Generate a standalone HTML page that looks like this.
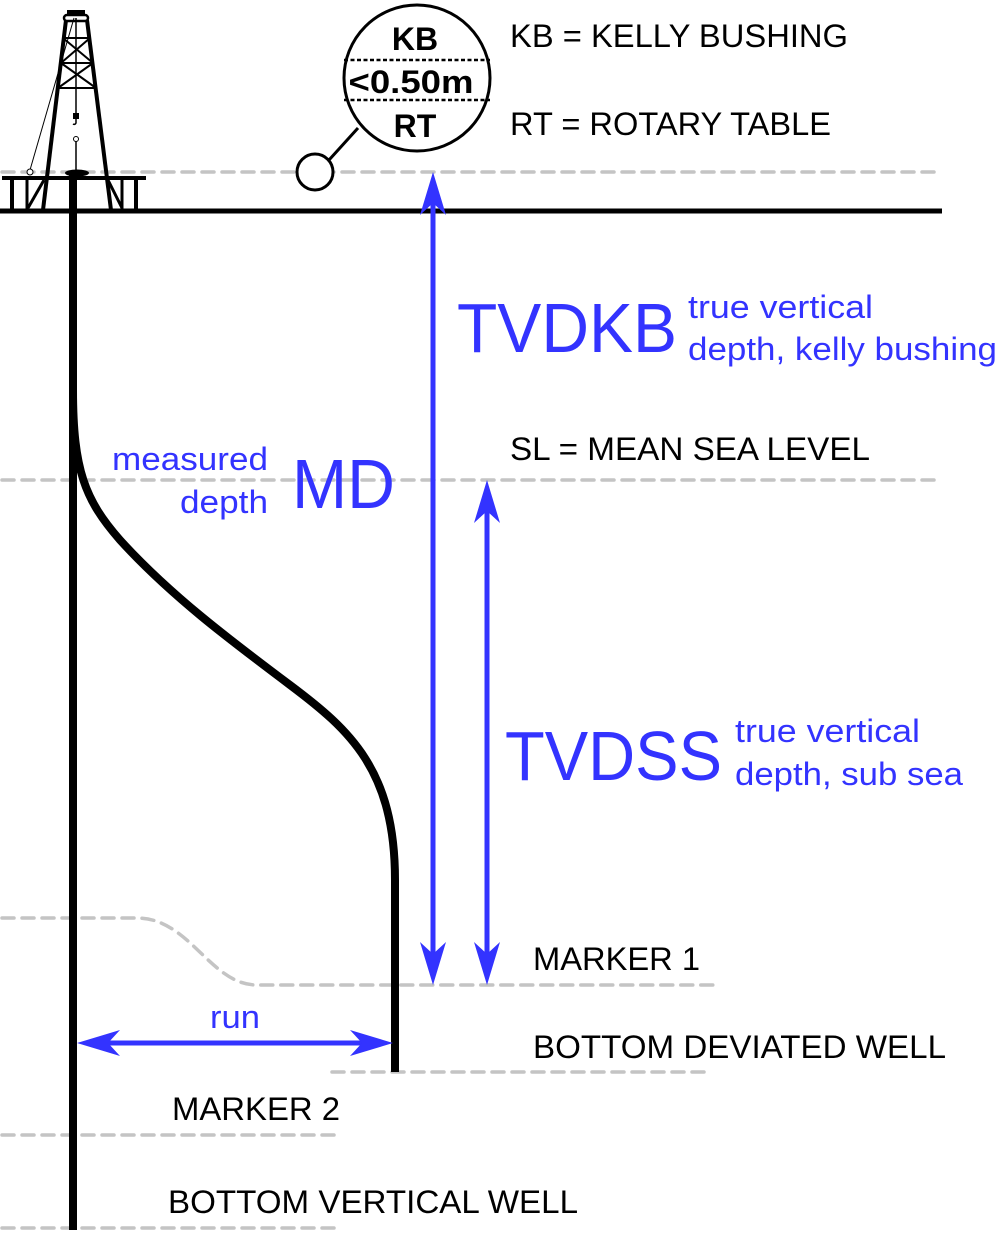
<!DOCTYPE html>
<html><head><meta charset="utf-8"><style>html,body{margin:0;padding:0;background:#fff}svg{display:block}</style></head>
<body>
<svg width="1000" height="1233" viewBox="0 0 1000 1233" xmlns="http://www.w3.org/2000/svg" font-family="Liberation Sans, Arial, sans-serif">
<g stroke="#c4c4c4" stroke-width="3.5" stroke-dasharray="12 8" fill="none" stroke-linecap="round">
<line x1="2" y1="172" x2="935" y2="172"/>
<line x1="2" y1="480" x2="935" y2="480"/>
<path d="M2,918 L137,918 C190,918 210,985 257,985 L715,985"/>
<line x1="332" y1="1072" x2="712" y2="1072"/>
<line x1="2" y1="1135" x2="335" y2="1135"/>
<line x1="2" y1="1228" x2="335" y2="1228"/>
</g>
<!-- ground -->
<line x1="0" y1="211" x2="942" y2="211" stroke="#000" stroke-width="5"/>
<!-- derrick -->
<g stroke="#000" fill="none">
<rect x="67" y="10" width="18" height="6" fill="#000" stroke="none"/>
<rect x="64" y="15" width="24" height="6" rx="3" stroke-width="2.5"/>
<line x1="66" y1="20" x2="43" y2="210" stroke-width="4"/>
<line x1="87" y1="20" x2="111" y2="210" stroke-width="4"/>
<line x1="63" y1="38" x2="90" y2="38" stroke-width="2"/>
<line x1="61" y1="63" x2="93" y2="63" stroke-width="2"/>
<line x1="58" y1="88" x2="96" y2="88" stroke-width="2"/>
<line x1="63" y1="38" x2="93" y2="63" stroke-width="2"/>
<line x1="90" y1="38" x2="61" y2="63" stroke-width="2"/>
<line x1="61" y1="63" x2="96" y2="88" stroke-width="2"/>
<line x1="93" y1="63" x2="58" y2="88" stroke-width="2"/>
<line x1="76" y1="18" x2="76" y2="115" stroke-width="1.5"/>
<rect x="73" y="113" width="6" height="6" fill="#000" stroke="none"/>
<path d="M76,119 v4 a2,2 0 0 1 -3,1" stroke-width="1.5"/>
<line x1="76" y1="140" x2="76" y2="170" stroke-width="1.5"/>
<circle cx="76" cy="139" r="2.5" stroke-width="1" fill="#fff"/>
<line x1="74" y1="18" x2="30" y2="170" stroke-width="1"/>
<circle cx="30" cy="172" r="3" stroke-width="1" fill="#fff"/>
<line x1="2" y1="178" x2="146" y2="178" stroke-width="4"/>
<line x1="12" y1="178" x2="12" y2="211" stroke-width="4"/>
<line x1="27" y1="178" x2="27" y2="211" stroke-width="3"/>
<line x1="122" y1="178" x2="122" y2="211" stroke-width="3"/>
<line x1="136" y1="178" x2="136" y2="211" stroke-width="4"/>
<line x1="28" y1="208" x2="44" y2="180" stroke-width="3"/>
<line x1="122" y1="208" x2="108" y2="180" stroke-width="3"/>
<ellipse cx="77" cy="173" rx="12" ry="3.5" fill="#000" stroke="none"/>
</g>
<!-- wells -->
<line x1="73" y1="172" x2="73" y2="1230" stroke="#000" stroke-width="8"/>
<path d="M73,390 C73,470 85,500 120,540 C170,595 230,640 290,685 C350,730 395,770 395,880 L395,1072" stroke="#000" stroke-width="8" fill="none"/>
<!-- KB circle -->
<circle cx="417" cy="78" r="73" fill="#fff" stroke="#000" stroke-width="3"/>
<circle cx="315" cy="172" r="18" fill="#fff" stroke="#000" stroke-width="3"/>
<line x1="329" y1="160" x2="358" y2="128" stroke="#000" stroke-width="3"/>
<line x1="344" y1="60" x2="490" y2="60" stroke="#000" stroke-width="2.5" stroke-dasharray="4 2.5"/>
<line x1="344" y1="100" x2="490" y2="100" stroke="#000" stroke-width="2.5" stroke-dasharray="4 2.5"/>
<g font-weight="bold" font-size="32" text-anchor="middle" fill="#000">
<text x="415" y="50">KB</text>
<text x="411" y="93" textLength="125" lengthAdjust="spacingAndGlyphs">&lt;0.50m</text>
<text x="415" y="137">RT</text>
</g>
<!-- blue arrows -->
<g fill="#3333ff" stroke="none">
<rect x="430.5" y="200" width="5" height="760"/>
<path d="M433,172 L446,215 L433,203 L420,215 Z"/>
<path d="M433,985 L446,942 L433,954 L420,942 Z"/>
<rect x="484.5" y="508" width="5" height="452"/>
<path d="M487,480 L500,523 L487,511 L474,523 Z"/>
<path d="M487,985 L500,942 L487,954 L474,942 Z"/>
<rect x="100" y="1040.5" width="270" height="5"/>
<path d="M77,1043 L120,1030 L108,1043 L120,1056 Z"/>
<path d="M393,1043 L350,1030 L362,1043 L350,1056 Z"/>
</g>
<g fill="#3333ff">
<text x="457" y="352" font-size="70" textLength="220" lengthAdjust="spacingAndGlyphs">TVDKB</text>
<text x="688" y="318" font-size="32" textLength="185" lengthAdjust="spacingAndGlyphs">true vertical</text>
<text x="688" y="360" font-size="32" textLength="309" lengthAdjust="spacingAndGlyphs">depth, kelly bushing</text>
<text x="292" y="508" font-size="70" textLength="103" lengthAdjust="spacingAndGlyphs">MD</text>
<text x="112" y="470" font-size="32" textLength="156" lengthAdjust="spacingAndGlyphs">measured</text>
<text x="180" y="513" font-size="32" textLength="88" lengthAdjust="spacingAndGlyphs">depth</text>
<text x="505" y="780" font-size="70" textLength="217" lengthAdjust="spacingAndGlyphs">TVDSS</text>
<text x="735" y="742" font-size="32" textLength="185" lengthAdjust="spacingAndGlyphs">true vertical</text>
<text x="735" y="785" font-size="32" textLength="228" lengthAdjust="spacingAndGlyphs">depth, sub sea</text>
<text x="210" y="1028" font-size="32" textLength="50" lengthAdjust="spacingAndGlyphs">run</text>
</g>
<g fill="#000" font-size="32">
<text x="510" y="47" textLength="338" lengthAdjust="spacingAndGlyphs">KB = KELLY BUSHING</text>
<text x="510" y="135" textLength="321" lengthAdjust="spacingAndGlyphs">RT = ROTARY TABLE</text>
<text x="510" y="460" textLength="360" lengthAdjust="spacingAndGlyphs">SL = MEAN SEA LEVEL</text>
<text x="533" y="970" textLength="167" lengthAdjust="spacingAndGlyphs">MARKER 1</text>
<text x="533" y="1058" textLength="413" lengthAdjust="spacingAndGlyphs">BOTTOM DEVIATED WELL</text>
<text x="172" y="1120" textLength="168" lengthAdjust="spacingAndGlyphs">MARKER 2</text>
<text x="168" y="1213" textLength="410" lengthAdjust="spacingAndGlyphs">BOTTOM VERTICAL WELL</text>
</g>
</svg>
</body></html>
